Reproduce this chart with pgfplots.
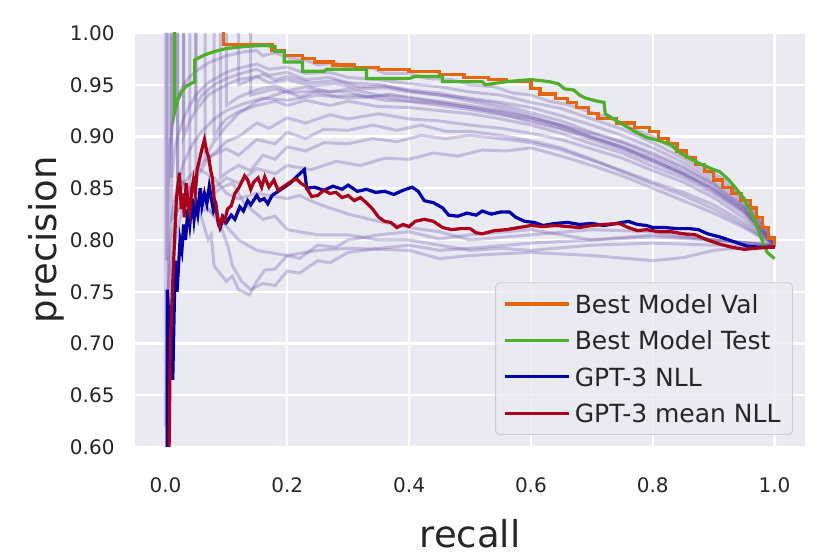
\documentclass[border=0pt]{standalone}
\usepackage{pgfplots}
\pgfplotsset{compat=1.18}
\usepackage{fontspec}
\setmainfont{DejaVu Sans}
\definecolor{bgc}{HTML}{EAEAF2}
\definecolor{txt}{HTML}{262626}
\definecolor{lgray}{HTML}{CCCCCC}
\definecolor{fpur}{HTML}{6A4FA8}
\definecolor{oran}{HTML}{E8650A}
\definecolor{gree}{HTML}{4DAF2A}
\definecolor{blu}{HTML}{0000AA}
\definecolor{rd}{HTML}{AA0018}
\begin{document}
\begin{tikzpicture}
\begin{axis}[name=ax, scale only axis, width=335pt, height=207pt,
  xmin=-0.05, xmax=1.05, ymin=0.6, ymax=1.0,
  xtick={0,0.2,0.4,0.6,0.8,1.0},
  ytick={0.6,0.65,0.7,0.75,0.8,0.85,0.9,0.95,1.0},
  axis background/.style={fill=bgc},
  axis line style={draw=none},
  major tick length=0pt,
  grid=major, major grid style={white, line width=1.1pt},
  tick label style={font=\fontsize{10}{12}\selectfont, text=txt},
  /pgf/number format/assume math mode=true,
  xticklabel style={/pgf/number format/.cd, fixed, fixed zerofill, precision=1},
  yticklabel style={/pgf/number format/.cd, fixed, fixed zerofill, precision=2},
  xticklabel shift=11.7pt, yticklabel shift=6.7pt,
  xlabel={recall}, ylabel={precision},
  label style={font=\fontsize{18.5}{22}\selectfont, text=txt},
  xlabel style={at={(rel axis cs:0.5,-0.2101)}, anchor=center},
  ylabel style={at={(rel axis cs:-0.1328,0.5)}, anchor=center},
  legend style={at={(0.982,0.029)}, anchor=south east, fill=bgc, fill opacity=0.8,
    draw=lgray, text opacity=1,
    rounded corners=2pt, font=\fontsize{12.5}{15}\selectfont, text=txt,
    row sep=4.9pt, inner xsep=4pt, inner ysep=4pt,
    nodes={text height=9.3pt, text depth=0pt}},
  legend cell align=left,
  legend image code/.code={\draw[#1, line width=1.1pt] (0pt,0pt) -- (26pt,0pt);
    \path (0pt,0pt) -- (32pt,0pt);},
  faint/.style={draw=fpur, draw opacity=0.3, line width=1.5pt, forget plot, mark=none},
  hl/.style={line width=1.6pt, mark=none},
]
% faint curves, upper bundle
\addplot[faint] coordinates {(0.002,1.0)(0.002,0.78)(0.004,0.85)(0.007,0.89)(0.01,0.905)(0.015,0.925)(0.02,0.937)(0.03,0.95)(0.04,0.958)(0.05,0.963)(0.07,0.971)(0.1,0.978)(0.13,0.982)(0.15,0.983)(0.16,0.978)(0.18,0.981)(0.2,0.976)(0.23,0.974)(0.25,0.969)(0.28,0.971)(0.3,0.966)(0.34,0.966)(0.36,0.961)(0.4,0.961)(0.43,0.956)(0.47,0.955)(0.5,0.950)(0.54,0.948)(0.57,0.942)(0.6,0.94)(0.63,0.934)(0.66,0.931)(0.7,0.923)(0.73,0.918)(0.76,0.909)(0.8,0.9)(0.83,0.89)(0.86,0.881)(0.89,0.868)(0.92,0.857)(0.95,0.839)(0.97,0.825)(0.99,0.806)(1.0,0.795)};
\addplot[faint] coordinates {(0.01,1.0)(0.01,0.86)(0.015,0.885)(0.02,0.9)(0.03,0.918)(0.04,0.93)(0.05,0.94)(0.07,0.952)(0.1,0.962)(0.12,0.966)(0.15,0.97)(0.17,0.965)(0.2,0.967)(0.23,0.961)(0.27,0.962)(0.3,0.957)(0.35,0.955)(0.4,0.951)(0.45,0.948)(0.5,0.943)(0.55,0.94)(0.6,0.933)(0.65,0.927)(0.7,0.917)(0.75,0.907)(0.8,0.894)(0.85,0.879)(0.9,0.861)(0.93,0.849)(0.96,0.83)(0.98,0.815)(1.0,0.795)};
\addplot[faint] coordinates {(0.03,1.0)(0.03,0.9)(0.04,0.915)(0.05,0.925)(0.07,0.94)(0.1,0.95)(0.12,0.955)(0.15,0.958)(0.17,0.952)(0.2,0.955)(0.24,0.949)(0.28,0.951)(0.32,0.946)(0.36,0.947)(0.4,0.943)(0.45,0.94)(0.5,0.937)(0.55,0.933)(0.6,0.928)(0.65,0.92)(0.7,0.911)(0.75,0.901)(0.8,0.889)(0.85,0.875)(0.9,0.857)(0.93,0.845)(0.96,0.828)(1.0,0.795)};
\addplot[faint] coordinates {(0.05,1.0)(0.05,0.93)(0.06,0.94)(0.08,0.95)(0.1,0.956)(0.13,0.962)(0.15,0.965)(0.17,0.959)(0.2,0.962)(0.23,0.955)(0.27,0.957)(0.3,0.952)(0.35,0.95)(0.4,0.945)(0.45,0.942)(0.5,0.936)(0.55,0.931)(0.6,0.923)(0.65,0.915)(0.7,0.904)(0.75,0.895)(0.8,0.884)(0.85,0.871)(0.9,0.854)(0.95,0.832)(0.98,0.814)(1.0,0.795)};
\addplot[faint] coordinates {(0.065,1.0)(0.065,0.88)(0.08,0.895)(0.1,0.91)(0.12,0.922)(0.15,0.934)(0.17,0.938)(0.2,0.944)(0.22,0.938)(0.25,0.944)(0.3,0.943)(0.33,0.938)(0.37,0.941)(0.4,0.937)(0.45,0.934)(0.5,0.93)(0.55,0.925)(0.6,0.918)(0.65,0.91)(0.7,0.899)(0.75,0.89)(0.8,0.877)(0.85,0.864)(0.9,0.849)(0.95,0.828)(1.0,0.795)};
\addplot[faint] coordinates {(0.08,1.0)(0.08,0.9)(0.09,0.91)(0.1,0.917)(0.12,0.924)(0.15,0.93)(0.18,0.934)(0.2,0.93)(0.23,0.935)(0.27,0.93)(0.3,0.934)(0.35,0.929)(0.4,0.928)(0.45,0.925)(0.5,0.922)(0.55,0.917)(0.6,0.911)(0.65,0.903)(0.7,0.893)(0.75,0.884)(0.8,0.871)(0.85,0.86)(0.9,0.845)(0.95,0.825)(1.0,0.795)};
\addplot[faint] coordinates {(0.1,1.0)(0.1,0.93)(0.12,0.938)(0.15,0.945)(0.18,0.949)(0.2,0.944)(0.23,0.948)(0.27,0.943)(0.3,0.946)(0.35,0.94)(0.4,0.938)(0.45,0.933)(0.5,0.928)(0.55,0.922)(0.6,0.914)(0.65,0.907)(0.7,0.897)(0.75,0.887)(0.8,0.875)(0.85,0.863)(0.9,0.847)(0.95,0.827)(1.0,0.795)};
\addplot[faint] coordinates {(0.12,1.0)(0.12,0.95)(0.14,0.955)(0.16,0.96)(0.18,0.955)(0.2,0.958)(0.24,0.952)(0.28,0.954)(0.32,0.948)(0.36,0.949)(0.4,0.944)(0.45,0.94)(0.5,0.934)(0.55,0.928)(0.6,0.92)(0.65,0.911)(0.7,0.9)(0.75,0.89)(0.8,0.879)(0.85,0.866)(0.9,0.851)(0.95,0.83)(1.0,0.795)};
\addplot[faint] coordinates {(0.005,1.0)(0.005,0.72)(0.008,0.76)(0.012,0.785)(0.02,0.81)(0.03,0.835)(0.04,0.85)(0.05,0.86)(0.07,0.878)(0.1,0.895)(0.12,0.9)(0.15,0.913)(0.17,0.908)(0.2,0.918)(0.23,0.913)(0.27,0.921)(0.3,0.917)(0.35,0.922)(0.4,0.917)(0.45,0.915)(0.5,0.911)(0.55,0.908)(0.6,0.903)(0.65,0.897)(0.7,0.888)(0.75,0.879)(0.8,0.867)(0.85,0.856)(0.9,0.841)(0.95,0.821)(1.0,0.795)};
\addplot[faint] coordinates {(0.02,1.0)(0.02,0.84)(0.03,0.855)(0.05,0.868)(0.07,0.88)(0.1,0.888)(0.12,0.882)(0.15,0.897)(0.18,0.893)(0.2,0.904)(0.23,0.898)(0.26,0.907)(0.3,0.906)(0.34,0.911)(0.38,0.906)(0.42,0.911)(0.46,0.905)(0.5,0.905)(0.55,0.901)(0.6,0.896)(0.65,0.889)(0.7,0.878)(0.75,0.866)(0.8,0.854)(0.85,0.843)(0.9,0.83)(0.95,0.814)(1.0,0.795)};
\addplot[faint] coordinates {(0.04,1.0)(0.04,0.82)(0.05,0.83)(0.06,0.84)(0.08,0.85)(0.1,0.86)(0.12,0.855)(0.15,0.869)(0.18,0.864)(0.2,0.872)(0.24,0.868)(0.28,0.876)(0.32,0.872)(0.36,0.879)(0.4,0.878)(0.44,0.884)(0.48,0.881)(0.52,0.887)(0.56,0.886)(0.6,0.889)(0.65,0.881)(0.7,0.872)(0.75,0.862)(0.8,0.85)(0.85,0.838)(0.9,0.826)(0.95,0.812)(1.0,0.795)};
\addplot[faint] coordinates {(0.09,1.0)(0.09,0.86)(0.1,0.865)(0.12,0.872)(0.14,0.867)(0.16,0.882)(0.18,0.878)(0.2,0.89)(0.23,0.886)(0.26,0.894)(0.3,0.893)(0.34,0.898)(0.38,0.895)(0.42,0.901)(0.46,0.898)(0.5,0.901)(0.55,0.898)(0.6,0.894)(0.65,0.887)(0.7,0.877)(0.75,0.867)(0.8,0.856)(0.85,0.846)(0.9,0.834)(0.95,0.817)(1.0,0.795)};
\addplot[faint] coordinates {(0.14,1.0)(0.14,0.94)(0.16,0.943)(0.18,0.946)(0.2,0.942)(0.24,0.944)(0.28,0.939)(0.32,0.94)(0.36,0.935)(0.4,0.934)(0.45,0.93)(0.5,0.926)(0.55,0.921)(0.6,0.916)(0.65,0.908)(0.7,0.899)(0.75,0.889)(0.8,0.877)(0.85,0.864)(0.9,0.849)(0.95,0.829)(1.0,0.795)};
\addplot[faint] coordinates {(0.0,1.0)(0.0,0.62)(0.003,0.74)(0.006,0.79)(0.01,0.82)(0.02,0.855)(0.03,0.875)(0.045,0.893)(0.06,0.905)(0.08,0.917)(0.1,0.925)(0.13,0.932)(0.16,0.937)(0.2,0.935)(0.25,0.94)(0.3,0.937)(0.35,0.939)(0.4,0.934)(0.45,0.932)(0.5,0.928)(0.55,0.924)(0.6,0.918)(0.65,0.911)(0.7,0.903)(0.75,0.894)(0.8,0.882)(0.85,0.869)(0.9,0.854)(0.95,0.832)(1.0,0.795)};
% faint curves, lower bundle
\addplot[faint] coordinates {(0.001,0.6)(0.001,0.62)(0.004,0.75)(0.01,0.80)(0.02,0.83)(0.03,0.84)(0.05,0.835)(0.06,0.82)(0.07,0.80)(0.075,0.805)(0.08,0.775)(0.1,0.76)(0.11,0.765)(0.12,0.752)(0.138,0.747)(0.15,0.76)(0.163,0.771)(0.18,0.772)(0.2,0.785)(0.22,0.782)(0.25,0.795)(0.28,0.793)(0.3,0.80)(0.35,0.805)(0.4,0.808)(0.45,0.801)(0.5,0.805)(0.6,0.81)(0.7,0.80)(0.8,0.805)(0.9,0.80)(1.0,0.795)};
\addplot[faint] coordinates {(0.01,1.0)(0.01,0.82)(0.03,0.835)(0.06,0.828)(0.07,0.83)(0.09,0.815)(0.103,0.793)(0.11,0.775)(0.125,0.76)(0.14,0.752)(0.16,0.758)(0.18,0.756)(0.2,0.77)(0.22,0.768)(0.25,0.78)(0.27,0.778)(0.3,0.788)(0.35,0.792)(0.4,0.795)(0.45,0.79)(0.5,0.792)(0.6,0.797)(0.7,0.80)(0.8,0.803)(0.9,0.80)(1.0,0.795)};
\addplot[faint] coordinates {(0.02,1.0)(0.02,0.86)(0.05,0.845)(0.08,0.845)(0.09,0.85)(0.11,0.855)(0.13,0.835)(0.16,0.82)(0.18,0.823)(0.2,0.81)(0.25,0.805)(0.3,0.805)(0.35,0.8)(0.4,0.80)(0.45,0.795)(0.5,0.79)(0.55,0.792)(0.6,0.79)(0.7,0.795)(0.8,0.797)(0.9,0.795)(1.0,0.795)};
\addplot[faint] coordinates {(0.05,1.0)(0.05,0.87)(0.08,0.86)(0.1,0.845)(0.12,0.84)(0.15,0.845)(0.2,0.84)(0.22,0.843)(0.25,0.835)(0.3,0.825)(0.35,0.818)(0.4,0.812)(0.45,0.808)(0.5,0.80)(0.6,0.805)(0.7,0.81)(0.8,0.808)(0.9,0.80)(1.0,0.795)};
\addplot[faint] coordinates {(0.03,1.0)(0.03,0.85)(0.06,0.835)(0.09,0.82)(0.12,0.80)(0.15,0.79)(0.2,0.785)(0.25,0.79)(0.3,0.792)(0.4,0.79)(0.45,0.782)(0.5,0.785)(0.6,0.788)(0.7,0.785)(0.8,0.78)(0.85,0.783)(0.9,0.79)(1.0,0.795)};
% highlighted curves
\addplot[hl, oran] coordinates {(0.095,1.02)(0.095,0.989)(0.175,0.989)(0.175,0.983)(0.195,0.983)(0.195,0.978)(0.225,0.978)(0.225,0.975)(0.245,0.975)(0.245,0.972)(0.275,0.972)(0.275,0.969)(0.31,0.969)(0.31,0.967)(0.35,0.967)(0.35,0.965)(0.4,0.965)(0.4,0.963)(0.45,0.963)(0.45,0.960)(0.49,0.960)(0.49,0.957)(0.53,0.957)(0.53,0.955)(0.56,0.955)(0.56,0.953)(0.6,0.953)(0.6,0.946)(0.615,0.946)(0.615,0.941)(0.64,0.941)(0.64,0.937)(0.66,0.937)(0.66,0.933)(0.675,0.933)(0.675,0.928)(0.695,0.928)(0.695,0.922)(0.71,0.922)(0.71,0.917)(0.74,0.917)(0.74,0.913)(0.77,0.913)(0.77,0.909)(0.795,0.909)(0.795,0.905)(0.81,0.905)(0.81,0.898)(0.825,0.898)(0.825,0.893)(0.84,0.893)(0.84,0.886)(0.855,0.886)(0.855,0.880)(0.87,0.880)(0.87,0.873)(0.885,0.873)(0.885,0.866)(0.9,0.866)(0.9,0.858)(0.915,0.858)(0.915,0.851)(0.93,0.851)(0.93,0.845)(0.945,0.845)(0.945,0.838)(0.96,0.838)(0.96,0.831)(0.97,0.831)(0.97,0.822)(0.98,0.822)(0.98,0.812)(0.99,0.812)(0.99,0.802)(1.0,0.802)(1.0,0.793)};
\addlegendentry{Best Model Val}
\addplot[hl, gree] coordinates {(0.015,1.02)(0.015,0.923)(0.02,0.935)(0.027,0.944)(0.035,0.949)(0.048,0.953)(0.048,0.974)(0.065,0.979)(0.08,0.982)(0.1,0.985)(0.13,0.987)(0.16,0.988)(0.18,0.987)(0.18,0.982)(0.195,0.982)(0.195,0.972)(0.225,0.972)(0.225,0.963)(0.26,0.963)(0.265,0.965)(0.33,0.965)(0.33,0.956)(0.4,0.956)(0.41,0.958)(0.455,0.958)(0.455,0.953)(0.52,0.953)(0.525,0.950)(0.56,0.953)(0.6,0.955)(0.63,0.953)(0.645,0.951)(0.655,0.946)(0.67,0.945)(0.68,0.940)(0.69,0.937)(0.71,0.934)(0.72,0.933)(0.722,0.922)(0.73,0.919)(0.75,0.912)(0.77,0.905)(0.79,0.899)(0.81,0.896)(0.83,0.892)(0.845,0.884)(0.86,0.879)(0.88,0.873)(0.9,0.868)(0.91,0.866)(0.925,0.858)(0.935,0.851)(0.95,0.840)(0.96,0.828)(0.968,0.818)(0.978,0.802)(0.988,0.788)(1.0,0.782)};
\addlegendentry{Best Model Test}
\addplot[hl, blu] coordinates {(0.003,0.6)(0.003,0.752)(0.008,0.70)(0.012,0.665)(0.016,0.78)(0.019,0.75)(0.024,0.80)(0.027,0.79)(0.03,0.815)(0.033,0.80)(0.037,0.83)(0.04,0.815)(0.044,0.84)(0.047,0.82)(0.05,0.835)(0.053,0.825)(0.057,0.85)(0.06,0.833)(0.064,0.845)(0.068,0.835)(0.072,0.852)(0.076,0.838)(0.079,0.828)(0.083,0.833)(0.087,0.815)(0.09,0.812)(0.095,0.822)(0.1,0.817)(0.108,0.824)(0.114,0.82)(0.122,0.832)(0.128,0.828)(0.135,0.838)(0.14,0.834)(0.15,0.843)(0.155,0.838)(0.162,0.84)(0.168,0.835)(0.175,0.843)(0.185,0.847)(0.195,0.851)(0.205,0.855)(0.215,0.861)(0.228,0.868)(0.232,0.85)(0.245,0.851)(0.26,0.848)(0.275,0.852)(0.29,0.849)(0.3,0.853)(0.315,0.847)(0.33,0.849)(0.345,0.846)(0.36,0.847)(0.375,0.844)(0.39,0.848)(0.405,0.851)(0.415,0.847)(0.425,0.838)(0.44,0.836)(0.455,0.831)(0.465,0.824)(0.48,0.823)(0.495,0.826)(0.51,0.824)(0.52,0.828)(0.535,0.825)(0.55,0.827)(0.565,0.827)(0.575,0.822)(0.59,0.818)(0.605,0.817)(0.62,0.814)(0.64,0.816)(0.66,0.817)(0.68,0.815)(0.7,0.816)(0.72,0.814)(0.74,0.816)(0.76,0.818)(0.775,0.815)(0.79,0.814)(0.8,0.812)(0.82,0.812)(0.84,0.811)(0.86,0.811)(0.875,0.810)(0.89,0.806)(0.91,0.803)(0.925,0.800)(0.94,0.797)(0.955,0.794)(0.975,0.793)(1.0,0.793)};
\addlegendentry{GPT-3 NLL}
\addplot[hl, rd] coordinates {(0.006,0.6)(0.008,0.70)(0.012,0.76)(0.015,0.80)(0.018,0.84)(0.021,0.855)(0.023,0.865)(0.026,0.83)(0.029,0.845)(0.031,0.822)(0.034,0.855)(0.037,0.835)(0.04,0.826)(0.043,0.848)(0.046,0.858)(0.049,0.845)(0.052,0.868)(0.056,0.878)(0.06,0.888)(0.064,0.897)(0.068,0.885)(0.071,0.88)(0.074,0.868)(0.077,0.86)(0.08,0.84)(0.083,0.833)(0.086,0.82)(0.089,0.813)(0.093,0.822)(0.097,0.818)(0.102,0.83)(0.108,0.833)(0.114,0.845)(0.12,0.85)(0.126,0.857)(0.13,0.862)(0.135,0.858)(0.14,0.849)(0.145,0.856)(0.152,0.86)(0.158,0.851)(0.163,0.861)(0.17,0.851)(0.178,0.858)(0.185,0.848)(0.195,0.852)(0.205,0.856)(0.215,0.859)(0.222,0.855)(0.23,0.852)(0.24,0.842)(0.25,0.843)(0.26,0.848)(0.27,0.845)(0.28,0.846)(0.29,0.841)(0.3,0.843)(0.31,0.838)(0.32,0.841)(0.33,0.836)(0.34,0.830)(0.35,0.822)(0.36,0.818)(0.37,0.817)(0.38,0.812)(0.39,0.815)(0.4,0.813)(0.41,0.818)(0.425,0.82)(0.44,0.818)(0.455,0.812)(0.47,0.810)(0.485,0.811)(0.5,0.811)(0.51,0.807)(0.52,0.806)(0.54,0.809)(0.56,0.810)(0.58,0.812)(0.6,0.814)(0.62,0.813)(0.64,0.814)(0.66,0.813)(0.68,0.812)(0.7,0.814)(0.72,0.815)(0.745,0.816)(0.76,0.812)(0.775,0.809)(0.79,0.810)(0.81,0.808)(0.83,0.808)(0.85,0.806)(0.87,0.805)(0.89,0.800)(0.91,0.796)(0.93,0.793)(0.95,0.791)(0.97,0.792)(0.99,0.793)(1.0,0.793)};
\addlegendentry{GPT-3 mean NLL}
\end{axis}
\pgfresetboundingbox
\path (ax.south west) ++(-67.5pt,-53.5pt) rectangle ([shift={(12.5pt,16.5pt)}]ax.north east);
\end{tikzpicture}
\end{document}
